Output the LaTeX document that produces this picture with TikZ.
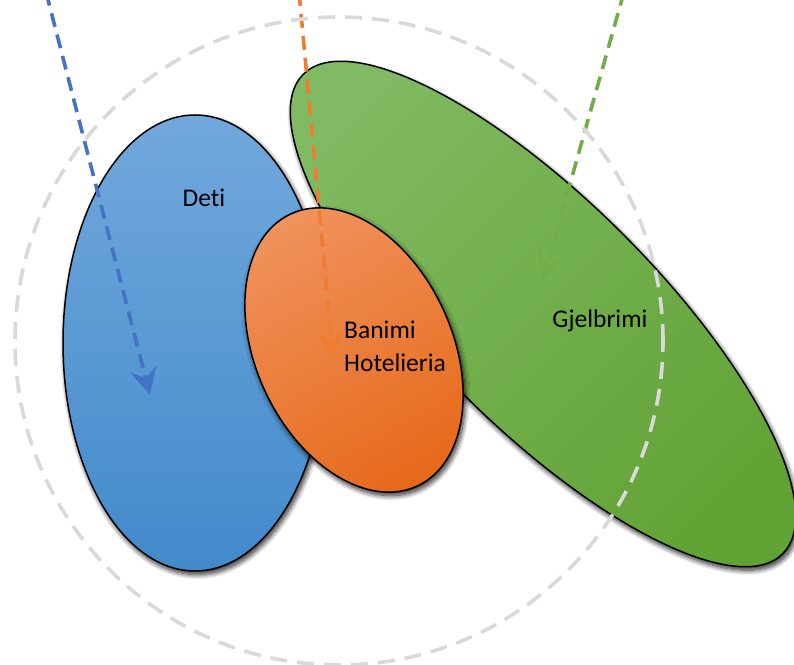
\documentclass[tikz,border=0pt]{standalone}
\usepackage{fontspec}
\setmainfont{Carlito}[Ligatures=NoCommon]
\usetikzlibrary{arrows.meta,shadows.blur}
\definecolor{detiline}{HTML}{4472C4}
\definecolor{detitop}{HTML}{72A8DC}
\definecolor{detibottom}{HTML}{428ACB}
\definecolor{banimiline}{HTML}{ED7D31}
\definecolor{banimilight}{HTML}{F0925C}
\definecolor{banimidark}{HTML}{E6691A}
\definecolor{gjelbline}{HTML}{70AD47}
\definecolor{gjelblight}{HTML}{80BA62}
\definecolor{gjelbdark}{HTML}{61A234}
\definecolor{ringgray}{HTML}{D9D9D9}

\begin{document}
\begin{tikzpicture}[x=1pt,y=1pt,
    blob/.style={draw=black,line width=1.5pt,
      blur shadow={shadow xshift=2pt,shadow yshift=-3.5pt,shadow blur radius=5pt,shadow blur steps=10,shadow opacity=85}},
    flow/.style={line width=3.6pt,dash pattern=on 14pt off 8pt,
      -{Stealth[length=27pt,width=27pt,inset=10pt]}},
    lbl/.style={font=\fontsize{25.5}{33}\selectfont,text=black,inner sep=0pt}]
    \useasboundingbox (0,0) rectangle (794,664);
    % three fields
    \draw[blob,top color=detitop,bottom color=detibottom] (195,321) ellipse [x radius=132,y radius=228];
    \draw[blob,top color=gjelblight,bottom color=gjelbdark,shading angle=45] (543,350) [rotate around={-45:(543,350)}] ellipse [x radius=339,y radius=113];
    \draw[blob,top color=banimilight,bottom color=banimidark,shading angle=30] (354,314) [rotate around={115:(354,314)}] ellipse [x radius=150,y radius=98];
    \node[lbl,anchor=base] (deti) at (204,457) {Deti};
    \node[lbl,anchor=base west,align=left] (banimi) at (344,292) {Banimi\\Hotelieria};
    \node[lbl,anchor=base] (gjelb) at (600,336) {Gjelbrimi};
    % incoming flows
    \coordinate (detiIn) at (46,672);
    \coordinate (detiEnd) at (150,269);
    \coordinate (banimiIn) at (299,672);
    \coordinate (banimiEnd) at (333,306);
    \coordinate (gjelbIn) at (624,672);
    \coordinate (gjelbEnd) at (543,384);
    \draw[flow,detiline] (detiIn)--(detiEnd);
    \draw[flow,banimiline] (banimiIn)--(banimiEnd);
    \draw[flow,gjelbline] (gjelbIn)--(gjelbEnd);
    \draw[ringgray,line width=3.6pt,dash pattern=on 17pt off 10pt] (339,323) circle (324);
\end{tikzpicture}
\end{document}
